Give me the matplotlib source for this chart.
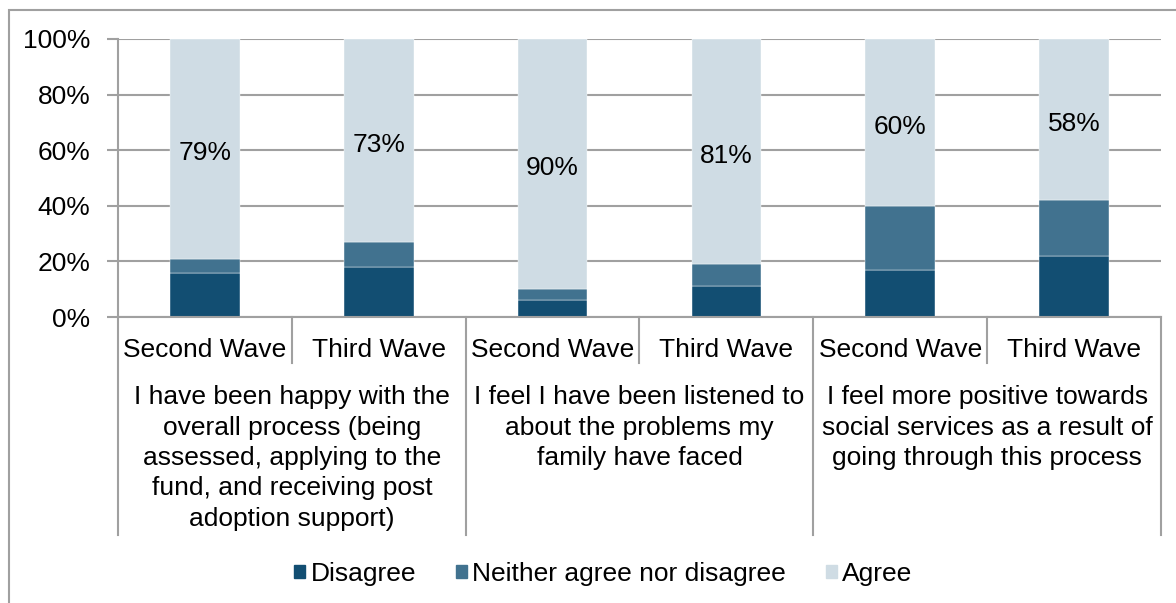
import matplotlib.pyplot as plt
from matplotlib.patches import Patch, Rectangle

plt.rcParams['font.family'] = ['Liberation Sans', 'DejaVu Sans']

waves = ["Second Wave", "Third Wave"] * 3
groups = [
    "I have been happy with the\noverall process (being\nassessed, applying to the\nfund, and receiving post\nadoption support)",
    "I feel I have been listened to\nabout the problems my\nfamily have faced",
    "I feel more positive towards\nsocial services as a result of\ngoing through this process",
]
disagree = [16, 18, 6, 11, 17, 22]
neither = [5, 9, 4, 8, 23, 20]
agree = [79, 73, 90, 81, 60, 58]

c_dis = '#124E72'
c_nei = '#41728F'
c_agr = '#CFDCE4'
grid_c = '#A0A0A0'
fs = 19

fig = plt.figure(figsize=(11.76, 6.03), dpi=100)
ax = fig.add_axes([118 / 1176, 1 - 317 / 603, (1161 - 118) / 1176, 278 / 603])

x = list(range(len(waves)))
w = 0.4
ax.bar(x, disagree, w, color=c_dis, edgecolor='white', linewidth=0.3, zorder=3)
ax.bar(x, neither, w, bottom=disagree, color=c_nei, edgecolor='white', linewidth=0.3, zorder=3)
bot2 = [d + n for d, n in zip(disagree, neither)]
ax.bar(x, agree, w, bottom=bot2, color=c_agr, edgecolor='white', linewidth=0.3, zorder=3)

for xi, b, a in zip(x, bot2, agree):
    ax.text(xi, b + a / 2 - 1.5, f"{a}%", ha='center', va='center', fontsize=fs, zorder=4)

ax.set_xlim(-0.5, len(waves) - 0.5)
ax.set_ylim(0, 100)
ax.set_yticks(range(0, 101, 20))
ax.set_yticklabels([f"{v}%" for v in range(0, 101, 20)], fontsize=fs)
ax.tick_params(axis='y', length=8, width=1.5, color=grid_c, pad=12)
ax.set_xticks([])
ax.grid(axis='y', color=grid_c, linewidth=1.5, zorder=0)
for s in ['top', 'right']:
    ax.spines[s].set_visible(False)
for s in ['left', 'bottom']:
    ax.spines[s].set_color(grid_c)
    ax.spines[s].set_linewidth(1.5)
ax.spines['bottom'].set_zorder(5)

tr = ax.get_xaxis_transform()
# wave labels and separators
for xi, lab in zip(x, waves):
    ax.text(xi, -0.117, lab, transform=tr, ha='center', va='center', fontsize=fs)
for i in range(len(waves) + 1):
    xb = i - 0.5
    low = -0.784 if i % 2 == 0 else -0.165
    ax.plot([xb, xb], [0, low], transform=tr, color=grid_c, linewidth=1.5, clip_on=False)
# group labels
for g, lab in enumerate(groups):
    ax.text(2 * g + 0.5, -0.245, lab, transform=tr, ha='center', va='top',
            fontsize=fs, linespacing=1.34)

handles = [Patch(color=c_dis, label='Disagree'),
           Patch(color=c_nei, label='Neither agree nor disagree'),
           Patch(color=c_agr, label='Agree')]
fig.legend(handles=handles, loc='center', bbox_to_anchor=(0.513, 1 - 574 / 603),
           ncol=3, frameon=False, fontsize=fs, handlelength=0.42, handleheight=0.42,
           handletextpad=0.2, columnspacing=1.5)

# outer chart border
fig.add_artist(Rectangle((9 / 1176, -0.05), 1.1, 1 - 10 / 603 + 0.05, transform=fig.transFigure,
                         fill=False, edgecolor=grid_c, linewidth=1.5))

fig.savefig('out.png', dpi=100)
